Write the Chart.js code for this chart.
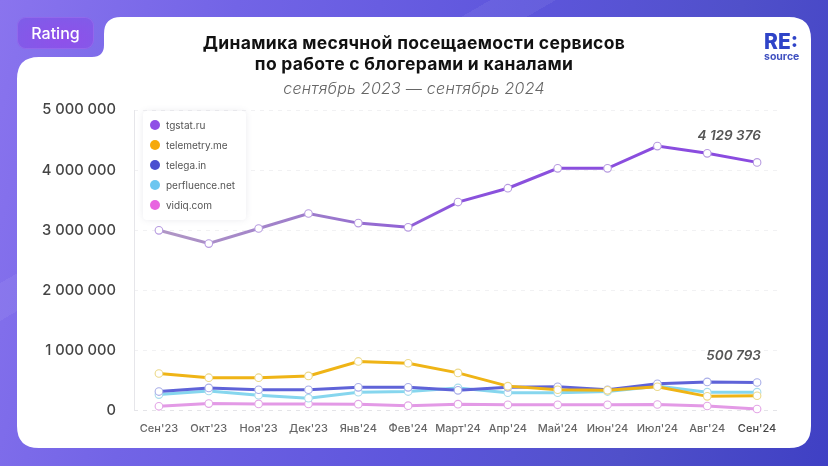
<!DOCTYPE html>
<html><head><meta charset="utf-8">
<style>
html,body{margin:0;padding:0;width:828px;height:466px;overflow:hidden}
body{position:relative;background:
 linear-gradient(150deg,transparent 0 30%,rgba(255,255,255,.06) 30% 34%,transparent 34%),
 linear-gradient(105deg,#8a74ee 0%,#7264e6 25%,#5e56dc 55%,#5050ca 78%,#3f40c4 100%);font-family:Inter,"Noto Sans",sans-serif}
svg.card{position:absolute;left:0;top:0}
canvas{position:absolute;left:0;top:0}
#wrap{position:absolute;left:0;top:0;width:828px;height:466px}
.t{position:absolute;text-align:center;white-space:nowrap}
#title{left:100px;width:628px;top:32px;font-size:17.5px;letter-spacing:.3px;line-height:21px;font-weight:700;color:#111}
#sub{left:100px;width:628px;top:78px;font-size:16px;letter-spacing:.25px;line-height:20px;font-style:italic;color:#666;font-weight:300}
#badge{left:17px;top:17px;width:77px;height:32px;border-radius:9px;background:radial-gradient(ellipse at 60% 70%,#8f50ea,#7d5ee8);box-shadow:inset 0 0 0 1px rgba(160,120,240,.5);color:#fff;font-size:16px;line-height:32px;font-weight:500}
#logo{left:764px;top:31px;font-size:21px;line-height:21px;font-weight:800;color:#2f44c8;text-align:left}
#logo2{left:764px;top:51px;font-size:10.5px;line-height:12px;font-weight:700;color:#3f50c0;text-align:left}
#legend{position:absolute;left:143px;top:111px;width:103px;height:109px;background:#fff;border-radius:4px;box-shadow:0 0 6px rgba(90,90,120,.12);font-size:10px;color:#555}
#legend div{position:absolute;left:7px;height:20px;line-height:20px;padding-left:13px;white-space:nowrap}
#legend i{position:absolute;left:0;top:5px;width:10px;height:10px;border-radius:50%}
</style></head><body>
<svg class="card" width="828" height="466"><path fill="#fff" d="M121 17H789Q811 17 811 39V426Q811 448 789 448H39Q17 448 17 426V79Q17 57 39 57H92Q104 57 104 45V34Q104 17 121 17Z"/></svg>
<div id="wrap"><canvas id="c" width="828" height="466"></canvas></div>
<div class="t" id="badge">Rating</div>
<div class="t" id="title">Динамика месячной посещаемости сервисов<br>по работе с блогерами и каналами</div>
<div class="t" id="sub">сентябрь 2023 — сентябрь 2024</div>
<div class="t" id="logo">RE:</div><div class="t" id="logo2">source</div>
<div id="legend"></div>
<script src="https://cdn.jsdelivr.net/npm/chart.js@4/dist/chart.umd.js"></script>
<script>
const categories=["Сен'23","Окт'23","Ноя'23","Дек'23","Янв'24","Фев'24","Март'24","Апр'24","Май'24","Июн'24","Июл'24","Авг'24","Сен'24"];
const tgstat=[3000000,2780000,3030000,3280000,3120000,3050000,3470000,3700000,4030000,4030000,4400000,4280000,4129376];
const telemetry=[620000,550000,550000,580000,820000,790000,630000,410000,350000,340000,400000,240000,250000];
const telega=[320000,380000,350000,350000,390000,390000,340000,390000,400000,350000,450000,480000,470000];
const perfluence=[270000,330000,260000,210000,310000,320000,380000,300000,300000,320000,410000,310000,310000];
const vidiq=[75000,120000,115000,115000,110000,85000,110000,100000,100000,100000,105000,80000,30000];
const seriesNames=["tgstat.ru","telemetry.me","telega.in","perfluence.net","vidiq.com"];
const seriesValues=[tgstat,telemetry,telega,perfluence,vidiq];
const lineColors=["#8a52dc","#efb416","#5f63d8","#86d6ee","#e39ae6"];
const pointColors=["#b79be0","#ecd98a","#a9aee8","#a9dcec","#e3a6e6"];
const legendColors=["#8f4fe6","#f5a90c","#4a4fd0","#6cc6f0","#e864e0"];
const annotations=[{text:"4 129 376",index:11.44,value:4129376,dy:-22},{text:"500 793",index:11.53,value:500793,dy:-21}];
const fmt=v=>String(v).replace(/\B(?=(\d{3})+$)/g," ");
const FONT='Inter,"Noto Sans",sans-serif';

const leg=document.getElementById('legend');
seriesNames.forEach((n,i)=>{const d=document.createElement('div');d.style.top=(4+i*20)+'px';d.innerHTML='<i style="background:'+legendColors[i]+'"></i><span style="margin-left:3px">'+n+'</span>';leg.appendChild(d);});

const noteLabels={id:'noteLabels',afterDatasetsDraw(ch){const c=ch.ctx;c.save();c.font='italic 600 13.5px '+FONT;c.fillStyle='#555';c.textAlign='center';
 annotations.forEach(a=>{c.fillText(a.text,ch.scales.x.getPixelForValue(a.index),ch.scales.y.getPixelForValue(a.value)+a.dy);});c.restore();}};

new Chart(document.getElementById('c'),{type:'line',
 data:{labels:categories,datasets:seriesNames.map((n,i)=>({label:n,data:seriesValues[i],
   borderColor:i===0?(ctx=>{const a=ctx.chart.chartArea;if(!a)return lineColors[0];const g=ctx.chart.ctx.createLinearGradient(a.left,0,a.right,0);g.addColorStop(0,'#b49cc4');g.addColorStop(.3,'#9a78cc');g.addColorStop(.5,'#8a52dc');g.addColorStop(1,'#8a4ae0');return g;}):lineColors[i],
   borderWidth:3,tension:0,pointRadius:3.8,pointHoverRadius:3.8,pointBorderWidth:1.1,pointBackgroundColor:'#fff',pointBorderColor:pointColors[i],clip:false}))},
 options:{responsive:false,animation:false,
  layout:{padding:{left:0,right:46,top:110,bottom:28}},
  plugins:{legend:{display:false},title:{display:false},tooltip:{enabled:false}},
  scales:{
   x:{offset:true,border:{display:false},grid:{display:false},
      ticks:{autoSkip:false,maxRotation:0,padding:3,font:{family:FONT,size:11,weight:'500'},color:c=>c.index===12?'#444':'#666'}},
   y:{min:0,max:5000000,afterFit(s){s.width=134;},
      border:{display:false,dash:[4,5]},
      grid:{drawTicks:false,color:c=>c.tick.value===0?'#e4e4e8':'#f1f1f3',lineWidth:1},
      ticks:{stepSize:1000000,padding:18,callback:v=>fmt(v),font:{family:FONT,size:14.7,weight:'500'},color:'#444'}}
  }},
 plugins:[noteLabels,{id:'axisLine',beforeDatasetsDraw(ch){const a=ch.chartArea,c=ch.ctx;c.save();c.strokeStyle='#e6e6ea';c.lineWidth=1;c.beginPath();c.moveTo(a.left+.5,a.top);c.lineTo(a.left+.5,a.bottom);c.stroke();c.restore();}}]
});
</script></body></html>
